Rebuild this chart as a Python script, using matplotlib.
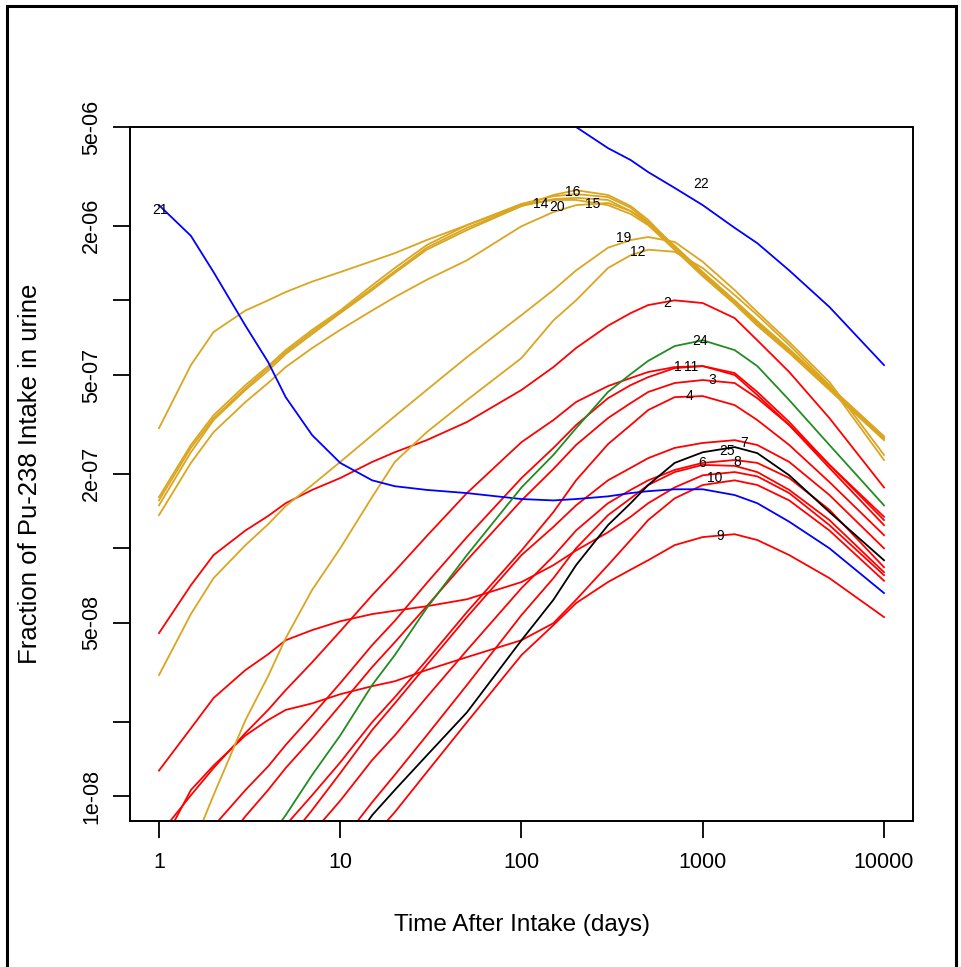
import numpy as np
import matplotlib
matplotlib.use("Agg")
import matplotlib.pyplot as plt
from matplotlib.patches import Rectangle

plt.rcParams['font.family'] = ['Liberation Sans', 'DejaVu Sans']

nan = np.nan
days = [1, 1.5, 2, 3, 4, 5, 7, 10, 15, 20, 30, 50, 100, 150, 200, 300, 400, 500, 700,
        1000, 1500, 2000, 3000, 5000, 10000]

# red curves
r1 = [6.97e-9, 1.01e-8, 1.30e-8, 1.80e-8, 2.23e-8, 2.68e-8, 3.47e-8, 4.63e-8, 6.47e-8, 8.09e-8, 1.12e-7,
      1.67e-7, 2.68e-7, 3.29e-7, 3.89e-7, 4.51e-7, 4.86e-7, 5.14e-7, 5.38e-7, 5.43e-7, 5.00e-7, 4.15e-7,
      3.14e-7, 2.17e-7, 1.34e-7]
r2 = [4.55e-8, 7.10e-8, 9.39e-8, 1.18e-7, 1.35e-7, 1.52e-7, 1.72e-7, 1.92e-7, 2.23e-7, 2.44e-7, 2.73e-7,
      3.23e-7, 4.35e-7, 5.38e-7, 6.42e-7, 7.90e-7, 8.88e-7, 9.57e-7, 1.00e-6, 9.75e-7, 8.48e-7, 6.90e-7,
      5.14e-7, 3.35e-7, 1.76e-7]
r3 = [nan, nan, 5.7e-9, 8.31e-9, 1.06e-8, 1.30e-8, 1.71e-8, 2.33e-8, 3.32e-8, 4.18e-8, 5.84e-8,
      8.95e-8, 1.56e-7, 2.09e-7, 2.61e-7, 3.35e-7, 3.85e-7, 4.27e-7, 4.64e-7, 4.77e-7, 4.64e-7, 4.03e-7,
      3.14e-7, 2.11e-7, 1.24e-7]
r4 = [nan, nan, nan, 4.9e-9, 6.06e-9, 7.64e-9, 1.01e-8, 1.37e-8, 1.99e-8, 2.51e-8, 3.54e-8,
      5.53e-8, 9.80e-8, 1.40e-7, 1.88e-7, 2.63e-7, 3.14e-7, 3.61e-7, 4.07e-7, 4.11e-7, 3.78e-7, 3.29e-7,
      2.61e-7, 1.85e-7, 1.13e-7]
r5 = [nan, nan, nan, nan, nan, nan, nan, 6.46e-9, 9.46e-9, 1.22e-8, 1.76e-8,
      2.81e-8, 5.38e-8, 7.58e-8, 1.00e-7, 1.36e-7, 1.59e-7, 1.80e-7, 2.03e-7, 2.17e-7, 2.15e-7, 2.03e-7,
      1.72e-7, 1.30e-7, 8.01e-8]
r6 = [1.27e-8, 1.88e-8, 2.49e-8, 3.23e-8, 3.74e-8, 4.26e-8, 4.68e-8, 5.08e-8, 5.43e-8, 5.60e-8, 5.84e-8,
      6.23e-8, 7.31e-8, 8.55e-8, 9.80e-8, 1.16e-7, 1.34e-7, 1.52e-7, 1.76e-7, 1.97e-7, 2.03e-7, 1.95e-7,
      1.67e-7, 1.24e-7, 7.79e-8]
r7 = [nan, nan, nan, nan, nan, 6.46e-9, 8.8e-9, 1.24e-8, 1.85e-8, 2.37e-8, 3.38e-8,
      5.28e-8, 9.39e-8, 1.22e-7, 1.49e-7, 1.88e-7, 2.11e-7, 2.31e-7, 2.54e-7, 2.66e-7, 2.73e-7, 2.61e-7,
      2.23e-7, 1.64e-7, 1.00e-7]
r8 = [nan, nan, nan, nan, nan, 5.3e-9, 7.10e-9, 9.6e-9, 1.40e-8, 1.76e-8, 2.51e-8,
      3.88e-8, 6.91e-8, 9.30e-8, 1.18e-7, 1.52e-7, 1.72e-7, 1.88e-7, 2.07e-7, 2.21e-7, 2.27e-7, 2.21e-7,
      1.92e-7, 1.43e-7, 8.39e-8]
r9 = [nan, nan, nan, nan, nan, nan, nan, nan, 6.8e-9, 8.63e-9, 1.25e-8,
      1.99e-8, 3.71e-8, 4.90e-8, 6.01e-8, 7.31e-8, 8.20e-8, 8.95e-8, 1.03e-7, 1.11e-7, 1.14e-7, 1.08e-7,
      9.39e-8, 7.58e-8, 5.28e-8]
r10 = [6.06e-9, 1.06e-8, 1.33e-8, 1.76e-8, 2.03e-8, 2.23e-8, 2.37e-8, 2.58e-8, 2.78e-8, 2.91e-8, 3.23e-8,
       3.64e-8, 4.26e-8, 4.99e-8, 6.20e-8, 8.55e-8, 1.08e-7, 1.30e-7, 1.59e-7, 1.80e-7, 1.88e-7, 1.80e-7,
       1.56e-7, 1.18e-7, 7.40e-8]
r11 = [nan, nan, 7.57e-9, 1.06e-8, 1.32e-8, 1.61e-8, 2.12e-8, 2.86e-8, 4.07e-8, 5.10e-8, 7.24e-8,
       1.11e-7, 1.92e-7, 2.54e-7, 3.14e-7, 4.03e-7, 4.55e-7, 4.90e-7, 5.33e-7, 5.43e-7, 5.09e-7, 4.27e-7,
       3.23e-7, 2.17e-7, 1.30e-7]

# gold curves
g12 = [4.0e-9, 6.06e-9, 1.01e-8, 2.03e-8, 3.05e-8, 4.34e-8, 6.80e-8, 1.00e-7, 1.61e-7, 2.23e-7, 2.94e-7,
       3.96e-7, 5.85e-7, 8.30e-7, 1.00e-6, 1.35e-6, 1.52e-6, 1.60e-6, 1.57e-6, 1.35e-6, 1.05e-6, 8.72e-7,
       6.60e-7, 4.55e-7, 2.27e-7]
g13 = [3.05e-7, 5.48e-7, 7.45e-7, 9.10e-7, 1.00e-6, 1.08e-6, 1.19e-6, 1.30e-6, 1.44e-6, 1.55e-6, 1.75e-6,
       2.01e-6, 2.42e-6, 2.54e-6, 2.54e-6, 2.42e-6, 2.23e-6, 2.01e-6, 1.60e-6, 1.25e-6, 9.66e-7, 7.90e-7,
       6.13e-7, 4.35e-7, 2.73e-7]
g14 = [1.56e-7, 2.54e-7, 3.35e-7, 4.43e-7, 5.33e-7, 6.18e-7, 7.45e-7, 8.97e-7, 1.12e-6, 1.31e-6, 1.63e-6,
       1.96e-6, 2.40e-6, 2.56e-6, 2.59e-6, 2.54e-6, 2.29e-6, 2.03e-6, 1.60e-6, 1.26e-6, 9.75e-7, 8.02e-7,
       6.18e-7, 4.39e-7, 2.76e-7]
g15 = [1.36e-7, 2.21e-7, 2.94e-7, 3.89e-7, 4.64e-7, 5.38e-7, 6.42e-7, 7.60e-7, 9.10e-7, 1.03e-6, 1.21e-6,
       1.45e-6, 1.99e-6, 2.27e-6, 2.42e-6, 2.47e-6, 2.29e-6, 2.07e-6, 1.66e-6, 1.30e-6, 1.00e-6, 8.25e-7,
       6.36e-7, 4.51e-7, 2.83e-7]
g16 = [1.49e-7, 2.44e-7, 3.29e-7, 4.35e-7, 5.20e-7, 6.07e-7, 7.31e-7, 8.88e-7, 1.10e-6, 1.29e-6, 1.60e-6,
       1.92e-6, 2.40e-6, 2.66e-6, 2.78e-6, 2.66e-6, 2.40e-6, 2.11e-6, 1.64e-6, 1.29e-6, 9.93e-7, 8.17e-7,
       6.30e-7, 4.47e-7, 2.81e-7]
g19 = [3.08e-8, 5.43e-8, 7.58e-8, 1.03e-7, 1.25e-7, 1.48e-7, 1.80e-7, 2.23e-7, 2.86e-7, 3.41e-7, 4.35e-7,
       5.90e-7, 8.72e-7, 1.10e-6, 1.32e-6, 1.63e-6, 1.75e-6, 1.80e-6, 1.72e-6, 1.43e-6, 1.10e-6, 8.97e-7,
       6.79e-7, 4.68e-7, 2.38e-7]
g20 = [1.61e-7, 2.61e-7, 3.44e-7, 4.55e-7, 5.43e-7, 6.30e-7, 7.60e-7, 9.10e-7, 1.15e-6, 1.35e-6, 1.67e-6,
       2.01e-6, 2.45e-6, 2.63e-6, 2.68e-6, 2.61e-6, 2.36e-6, 2.07e-6, 1.63e-6, 1.28e-6, 9.84e-7, 8.10e-7,
       6.24e-7, 4.43e-7, 2.78e-7]

# blue curves
b21 = [2.42e-6, 1.82e-6, 1.30e-6, 7.90e-7, 5.64e-7, 4.07e-7, 2.86e-7, 2.21e-7, 1.88e-7, 1.78e-7, 1.72e-7,
       1.67e-7, 1.58e-7, 1.56e-7, 1.58e-7, 1.62e-7, 1.67e-7, 1.70e-7, 1.73e-7, 1.73e-7, 1.64e-7, 1.52e-7,
       1.28e-7, 1.00e-7, 6.6e-8]
b22 = [nan, nan, nan, nan, nan, nan, nan, nan, nan, nan, nan, nan,
       6.73e-6, 5.86e-6, 5.00e-6, 4.11e-6, 3.68e-6, 3.29e-6, 2.84e-6, 2.42e-6, 1.96e-6, 1.70e-6,
       1.32e-6, 9.4e-7, 5.48e-7]

# green and black
c24 = [nan, nan, nan, 4.8e-9, 6.7e-9, 8.39e-9, 1.22e-8, 1.76e-8, 2.81e-8, 3.71e-8, 5.74e-8,
       9.39e-8, 1.76e-7, 2.38e-7, 3.05e-7, 4.27e-7, 5.04e-7, 5.70e-7, 6.54e-7, 6.90e-7, 6.30e-7, 5.43e-7,
       3.96e-7, 2.61e-7, 1.49e-7]
k25 = [nan, nan, nan, nan, nan, nan, nan, 5.5e-9, 8.39e-9, 1.06e-8, 1.46e-8,
       2.18e-8, 4.26e-8, 6.20e-8, 8.55e-8, 1.24e-7, 1.52e-7, 1.80e-7, 2.21e-7, 2.44e-7, 2.56e-7, 2.42e-7,
       1.97e-7, 1.40e-7, 8.95e-8]

# curve labels: text, day, value
lab_txt = ['21', '22', '14', '20', '16', '15', '19', '12', '2', '24', '1', '11', '3', '4',
           '7', '25', '8', '6', '10', '9']
lab_x = [1.01, 981, 127, 158, 191, 246, 365, 440, 637, 969, 724, 865, 1128, 843,
         1693, 1365, 1549, 993, 1157, 1248]
lab_y = [2.31e-6, 2.94e-6, 2.44e-6, 2.38e-6, 2.73e-6, 2.44e-6, 1.79e-6, 1.57e-6, 9.8e-7, 6.86e-7,
         5.38e-7, 5.38e-7, 4.77e-7, 4.11e-7, 2.65e-7, 2.47e-7, 2.23e-7, 2.21e-7, 1.92e-7, 1.12e-7]

red = '#FF0000'
gold = '#DAA520'
blue = '#0000FF'
green = '#228B22'

fig = plt.figure(figsize=(9.62, 9.67), dpi=100)
ax = fig.add_axes([130/962, 1-821/967, 783/962, 694/967])

lw = 1.3
for s in [r1, r2, r3, r4, r5, r6, r7, r8, r9, r10, r11]:
    ax.plot(days, s, color=red, lw=lw)
for s in [g12, g13, g14, g15, g16, g19, g20]:
    ax.plot(days, s, color=gold, lw=lw)
ax.plot(days, b21, color=blue, lw=lw)
ax.plot(days, b22, color=blue, lw=lw)
ax.plot(days, c24, color=green, lw=lw)
ax.plot(days, k25, color='black', lw=lw)

for t, x, y in zip(lab_txt, lab_x, lab_y):
    ax.text(x, y, t, fontsize=10, ha='center', va='center', color='black')

ax.set_xscale('log')
ax.set_yscale('log')
ax.set_xlim(0.692, 14454)
ax.set_ylim(7.95e-9, 5.0e-6)

ax.set_xticks([1, 10, 100, 1000, 10000])
ax.set_xticklabels(['1', '10', '100', '1000', '10000'])
ax.xaxis.set_minor_locator(matplotlib.ticker.NullLocator())
yt = [1e-8, 2e-8, 5e-8, 1e-7, 2e-7, 5e-7, 1e-6, 2e-6, 5e-6]
ax.set_yticks(yt)
ax.set_yticklabels(['1e-08', '', '5e-08', '', '2e-07', '5e-07', '', '2e-06', '5e-06'],
                   rotation=90, va='center')
ax.yaxis.set_minor_locator(matplotlib.ticker.NullLocator())
ax.tick_params(axis='both', length=12, width=1.3, labelsize=15.5, color='black')
ax.tick_params(axis='x', pad=10)
ax.tick_params(axis='y', pad=8)
for sp in ax.spines.values():
    sp.set_linewidth(1.4)

ax.set_xlabel('Time After Intake (days)', fontsize=17.5)
ax.set_ylabel('Fraction of Pu-238 Intake in urine', fontsize=18.5)
ax.xaxis.set_label_coords(0.5, -(914-821)/694)
ax.yaxis.set_label_coords(-(130-42)/783, 0.5)

fig.patches.append(Rectangle((7/962, -0.02), 949/962, 1.02-6/967, transform=fig.transFigure,
                             fill=False, edgecolor='black', lw=2.2))

fig.savefig('out.png', dpi=100)
